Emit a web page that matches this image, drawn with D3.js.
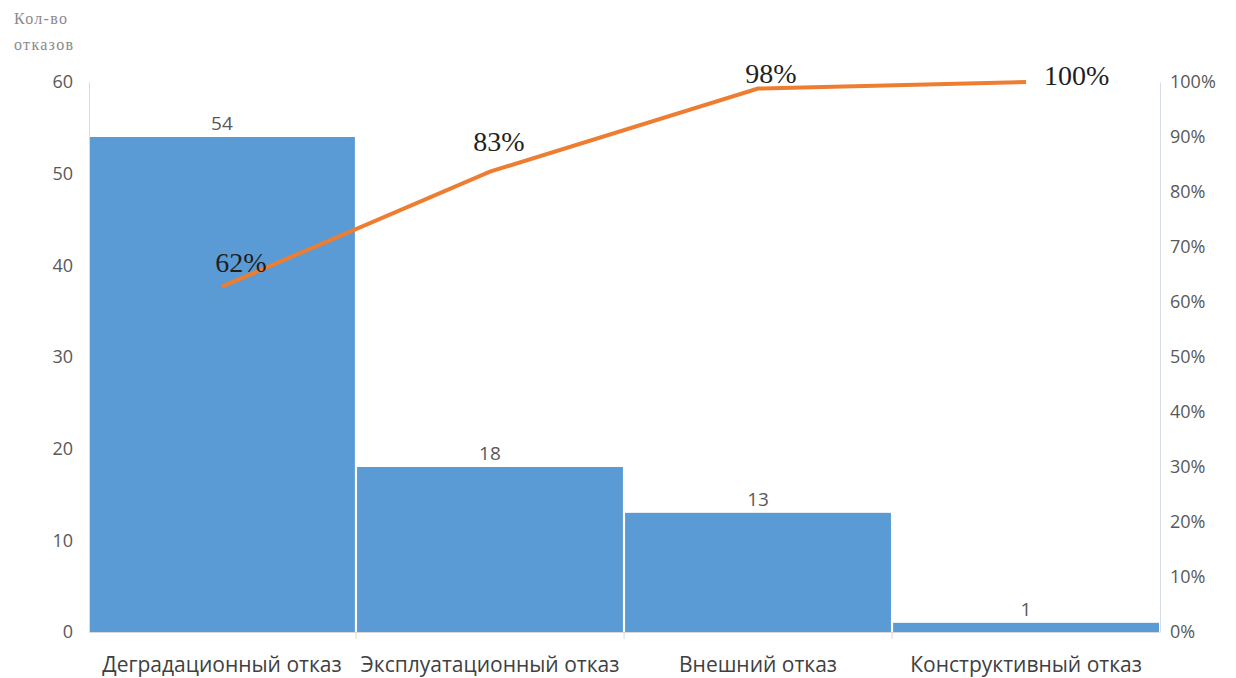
<!DOCTYPE html>
<html>
<head>
<meta charset="utf-8">
<script src="https://cdn.jsdelivr.net/npm/d3@7"></script>
<style>
  body { margin: 0; background: #fff; }
  svg { display: block; }
</style>
</head>
<body>
<svg id="chart" width="1236" height="678"></svg>
<script>
// data
const categories = ["Деградационный отказ", "Эксплуатационный отказ", "Внешний отказ", "Конструктивный отказ"];
const failures = [54, 18, 13, 1];
const cumulative = [62.8, 83.7, 98.8, 100];
const cumLabels = ["62%", "83%", "98%", "100%"];
const leftTicks = [0, 10, 20, 30, 40, 50, 60];
const rightTicks = [0, 10, 20, 30, 40, 50, 60, 70, 80, 90, 100];

const svg = d3.select("#chart");
const margin = { left: 89, right: 77, top: 82, bottom: 46 };
const width = 1236, height = 678;

let x = d3.scaleBand()
  .domain(categories)
  .range([margin.left, width - margin.right])
  .paddingInner(0.008)
  .paddingOuter(0);

let y = d3.scaleLinear().domain([0, 60]).range([height - margin.bottom, margin.top]);
let y2 = d3.scaleLinear().domain([0, 100]).range([height - margin.bottom, margin.top]);

// bars
svg.append("g").selectAll("rect")
  .data(failures)
  .enter()
  .append("rect")
  .attr("x", (d, i) => x(categories[i]))
  .attr("y", d => y(d))
  .attr("width", x.bandwidth())
  .attr("height", d => y(0) - y(d))
  .attr("fill", "#5b9bd5");

// bar value labels
svg.append("g").selectAll("text")
  .data(failures)
  .enter()
  .append("text")
  .attr("x", (d, i) => x(categories[i]) + x.bandwidth() / 2)
  .attr("y", d => y(d) - 7)
  .attr("text-anchor", "middle")
  .attr("font-family", "Open Sans, sans-serif")
  .attr("font-size", 19)
  .attr("fill", "#595959")
  .text(d => d);

// axes
let leftAxis = svg.append("g")
  .attr("transform", `translate(${margin.left},0)`)
  .call(d3.axisLeft(y).tickValues(leftTicks).tickSize(0).tickPadding(16));
leftAxis.select(".domain").attr("stroke", "#d9d9d9");

let rightAxis = svg.append("g")
  .attr("transform", `translate(${width - margin.right + 1},0)`)
  .call(d3.axisRight(y2).tickValues(rightTicks).tickSize(0).tickPadding(10)
    .tickFormat(d => d + "%"));
rightAxis.select(".domain").attr("stroke", "#d6dde6");

let bottomAxis = svg.append("g")
  .attr("transform", `translate(0,${height - margin.bottom})`)
  .call(d3.axisBottom(x).tickSize(0).tickPadding(25));
bottomAxis.select(".domain").attr("stroke", "#d9d9d9");

// category separators below the axis
svg.append("g").selectAll("line")
  .data(categories.slice(1))
  .enter()
  .append("line")
  .attr("x1", d => x(d) - 1)
  .attr("x2", d => x(d) - 1)
  .attr("y1", height - margin.bottom)
  .attr("y2", height - margin.bottom + 7)
  .attr("stroke", "#d9d9d9");

svg.selectAll(".tick text")
  .attr("font-family", "Open Sans, sans-serif")
  .attr("font-size", 18)
  .attr("fill", "#595959");
bottomAxis.selectAll(".tick text")
  .attr("font-size", 21)
  .attr("fill", "#404040");

// cumulative line
let line = d3.line()
  .x((d, i) => x(categories[i]) + x.bandwidth() / 2)
  .y(d => y2(d));

svg.append("path")
  .datum(cumulative)
  .attr("d", line)
  .attr("fill", "none")
  .attr("stroke", "#ed7d31")
  .attr("stroke-width", 4);

const labelOffsets = [[19, -15], [9, -21], [13, -6], [18, 3]];
svg.append("g").selectAll("text")
  .data(cumLabels)
  .enter()
  .append("text")
  .attr("x", (d, i) => x(categories[i]) + x.bandwidth() / 2 + labelOffsets[i][0])
  .attr("y", (d, i) => y2(cumulative[i]) + labelOffsets[i][1])
  .attr("text-anchor", (d, i) => i == 3 ? "start" : "middle")
  .attr("font-family", "Liberation Serif, Times New Roman, serif")
  .attr("font-size", 28)
  .attr("fill", "#1f1f1f")
  .text(d => d);

// axis title
svg.append("text")
  .attr("x", 14)
  .attr("y", 24)
  .attr("font-family", "Liberation Serif, serif")
  .attr("font-size", 16)
  .attr("letter-spacing", 1.3)
  .attr("fill", "#8a8a8a")
  .text("Кол-во");
svg.append("text")
  .attr("x", 14)
  .attr("y", 50)
  .attr("font-family", "Liberation Serif, serif")
  .attr("font-size", 16)
  .attr("letter-spacing", 1.3)
  .attr("fill", "#8a8a8a")
  .text("отказов");
</script>
</body>
</html>
